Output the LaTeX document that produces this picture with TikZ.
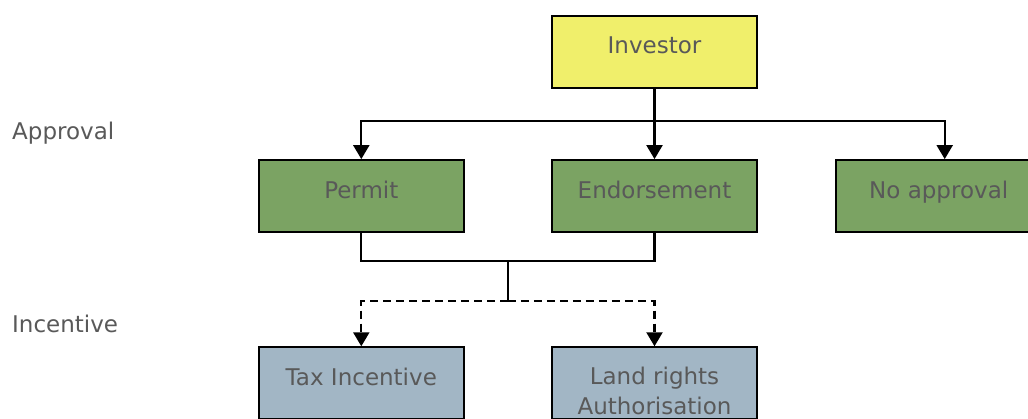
\documentclass[tikz,border=0pt]{standalone}
\usepackage{fontspec}
\setmainfont{DejaVu Sans}
\usetikzlibrary{positioning,arrows.meta,calc}
\definecolor{invyellow}{HTML}{F0EF6B}
\definecolor{apgreen}{HTML}{7BA363}
\definecolor{incblue}{HTML}{A2B6C5}
\definecolor{txtgrey}{HTML}{595959}

\begin{document}
\begin{tikzpicture}[x=1pt, y=1pt, node distance=70pt and 86pt,
  box/.style={draw=black, line width=2.2pt, minimum width=205pt, minimum height=72pt, inner xsep=0pt, inner ysep=0pt, text height=38pt, text depth=34pt, align=center, font=\fontsize{23}{30}\selectfont, text=txtgrey},
  invbox/.style={box, fill=invyellow},
  apbox/.style={box, fill=apgreen},
  incbox/.style={box, fill=incblue},
  lbl/.style={anchor=base west, inner sep=0pt, font=\fontsize{23}{30}\selectfont, text=txtgrey},
  link/.style={line width=2.2pt},
  arr/.style={link, -{Triangle[length=14pt, width=16pt]}},
  opt/.style={arr, dash pattern=on 8pt off 5pt}]
  \useasboundingbox (0,0) rectangle (1028,-419);
  \clip (0,0) rectangle (1028,-419);
  \node[invbox] (inv) at (654.5,-52) {Investor};
  \node[apbox, below=of inv] (endo) {Endorsement};
  \node[apbox, left=of endo] (permit) {Permit};
  \node[apbox, right=77pt of endo] (noapp) {No approval};
  \node[incbox, below=113pt of permit] (tax) {Tax Incentive};
  \node[incbox, below=113pt of endo, text height=67pt, text depth=5pt] (land) {Land rights\\Authorisation};
  \node[lbl] (apprlbl) at (12,-140) {Approval};
  \node[lbl] (inclbl) at (12,-333) {Incentive};
  % approval level
  \draw[link] (inv.south) -- ++(0,-32) coordinate (split);
  \draw[arr] (split) -| (permit.north);
  \draw[arr] (split) -- (endo.north);
  \draw[arr] (split) -| ([xshift=6pt]noapp.north);
  % incentive level
  \coordinate (mrg) at ($(permit.south)!0.5!(endo.south)+(0,-28)$);
  \draw[link] (permit.south) |- (mrg) -| (endo.south);
  \draw[link] (mrg) -- ++(0,-40) coordinate (fork);
  \draw[opt] (fork) -| (tax.north);
  \draw[opt] (fork) -| (land.north);
\end{tikzpicture}
\end{document}
